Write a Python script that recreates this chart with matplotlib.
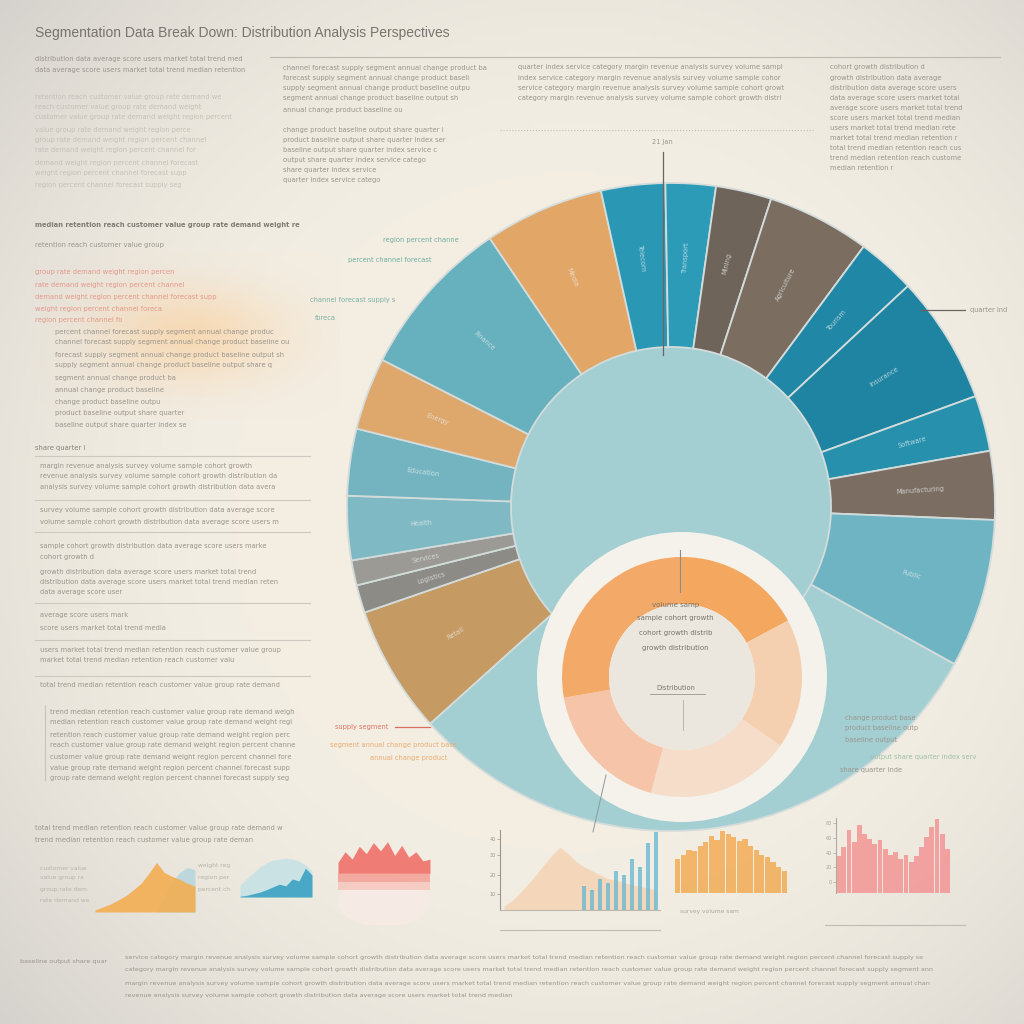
import numpy as np
import matplotlib
matplotlib.use("Agg")
import matplotlib.pyplot as plt
from matplotlib.patches import Circle, Ellipse
from matplotlib import font_manager

# ---------------- data ----------------
title = "Segmentation Data Break Down: Distribution Analysis Perspectives"

ring_labels = ["Retail", "Logistics", "Services", "Health", "Education", "Energy",
               "Finance", "Media", "Telecom", "Transport", "Mining", "Agriculture",
               "Tourism", "Insurance", "Software", "Manufacturing", "Public", ""]
ring_values = [23, 5, 4.5, 11.5, 12, 13, 29, 21.5, 11.5, 9, 10, 18.5,
               10.5, 23, 10, 12.3, 26.7, 109]
ring_colors = ["#c59a63", "#8d8b86", "#9b9a95", "#7fbac4", "#74b4c1", "#dea76c",
               "#67b0be", "#e2a666", "#2a97b4", "#2c9bb8", "#6f6459", "#7b6d60",
               "#2088a6", "#1e84a1", "#2790ad", "#7b6d62", "#6fb4c3", "#a3cfd3"]

donut_values = [62, 63, 70, 65, 100]
donut_colors = ["#f4a75e", "#f5d0b0", "#f5ddca", "#f6c5a9", "#f3aa68"]

chart1_orange = [0.04, 0.10, 0.16, 0.24, 0.33, 0.45, 0.58, 0.78, 1.00, 0.80, 0.72, 0.66, 0.58, 0.52]
chart1_blue = [0.0, 0.0, 0.0, 0.0, 0.0, 0.0, 0.0, 0.0, 0.0, 0.3, 0.6, 0.8, 0.9, 0.85]
chart2_light = [0.30, 0.45, 0.60, 0.75, 0.85, 0.92, 0.95, 0.97, 0.95, 0.90, 0.80, 0.65]
chart2_blue = [0.02, 0.04, 0.08, 0.12, 0.18, 0.25, 0.32, 0.28, 0.45, 0.40, 0.72, 0.55]
chart3_red = [0.55, 0.78, 0.62, 0.90, 0.74, 0.98, 0.80, 1.00, 0.70, 0.92, 0.66, 0.78, 0.58, 0.62]
chart4_orange = [0.05, 0.12, 0.22, 0.33, 0.45, 0.58, 0.70, 0.80, 0.72, 0.62, 0.55, 0.50, 0.45, 0.40,
                 0.38, 0.35, 0.32, 0.30, 0.28, 0.25]
chart4_blue = [0.0, 0.0, 0.0, 0.0, 0.0, 0.0, 0.0, 0.0, 0.0, 0.0, 0.30, 0.25, 0.40, 0.35, 0.50,
               0.45, 0.65, 0.55, 0.85, 1.00]
chart5_bars = [0.55, 0.62, 0.70, 0.68, 0.76, 0.82, 0.92, 0.86, 1.00, 0.95, 0.90, 0.84, 0.88,
               0.76, 0.70, 0.62, 0.58, 0.50, 0.42, 0.36]
chart6_bars = [0.50, 0.62, 0.86, 0.70, 0.92, 0.80, 0.74, 0.66, 0.72, 0.60, 0.52, 0.56, 0.46,
               0.52, 0.42, 0.50, 0.62, 0.76, 0.90, 1.00, 0.80, 0.60]

words = ("segment share revenue growth market customer region annual quarter analysis "
         "distribution total value percent change index survey data trend group channel "
         "product service volume average median rate forecast baseline category sample "
         "score retention demand supply output margin cohort users reach weight").split()

# ---------------- helpers ----------------
try:
    font_manager.findfont("Liberation Sans Narrow", fallback_to_default=False)
    FAM = ["Liberation Sans Narrow", "DejaVu Sans"]
    CW = 0.44
except Exception:
    FAM = ["DejaVu Sans"]
    CW = 0.57

TXT = "#9a958c"


def Y(v):
    return 1024 - v


def filler(n, k):
    out, i = [], k
    while len(" ".join(out)) < n:
        out.append(words[(i * 7 + 3) % len(words)])
        i += 1
    return " ".join(out)[:n]


fig = plt.figure(figsize=(10.24, 10.24), dpi=100)
ax = fig.add_axes([0, 0, 1, 1])

# background with vignette
yy, xx = np.mgrid[0:1:240j, 0:1:240j]
d = np.sqrt((xx - 0.56) ** 2 + (yy - 0.5) ** 2)
t = np.clip((d - 0.33) / 0.42, 0, 1) ** 1.6
base = np.array([0.953, 0.933, 0.890])
edge = np.array([0.835, 0.825, 0.805])
img = base * (1 - t[..., None]) + edge * t[..., None]
ax.imshow(img, extent=(0, 1024, 0, 1024), origin="lower", zorder=0, aspect="auto")

# soft orange glow behind red text block
gy, gx = np.mgrid[0:1:120j, 0:1:120j]
glow = np.zeros((120, 120, 4))
glow[..., 0], glow[..., 1], glow[..., 2] = 0.99, 0.80, 0.58
glow[..., 3] = 0.55 * np.exp(-((gx - 0.5) / 0.30) ** 2 - ((gy - 0.5) / 0.28) ** 2)
ax.imshow(glow, extent=(40, 340, Y(420), Y(250)), origin="lower", zorder=1, aspect="auto")


def line(x, y, w, size=4.9, color=TXT, k=0, alpha=1.0, weight="normal"):
    n = max(4, int(w / (size * 100 / 72 * CW)))
    ax.text(x, Y(y), filler(n, k), fontsize=size, color=color, ha="left", va="center",
            family=FAM, alpha=alpha, fontweight=weight, zorder=5)


def rule(x0, x1, y, color="#cdc8be", lw=0.8, ls="-"):
    ax.plot([x0, x1], [Y(y), Y(y)], color=color, lw=lw, ls=ls, zorder=4)


# ---------------- title and top text ----------------
ax.text(35, Y(33), title, fontsize=10, color="#77746e", family=["Liberation Sans", "DejaVu Sans"],
        ha="left", va="center", zorder=5)
rule(270, 1000, 57, color="#bdb8ae")
rule(500, 815, 130, color="#c4bfb5", ls=":")
line(35, 59, 235, k=1)
line(35, 70, 240, k=2)
for i, (yv, w) in enumerate([(97, 200), (107, 180), (117, 210), (130, 170), (140, 190),
                             (150, 175), (163, 180), (173, 170), (185, 165)]):
    line(35, yv, w, color="#bdb8af", k=10 + i, alpha=0.8)
for i, (yv, w) in enumerate([(68, 220), (78, 205), (88, 200), (98, 190), (110, 130),
                             (130, 180), (140, 185), (150, 175), (160, 160), (170, 110), (180, 110)]):
    line(283, yv, w, k=20 + i)
for i, (yv, w) in enumerate([(67, 290), (78, 285), (88, 290), (98, 290)]):
    line(518, yv, w, k=30 + i)
for i, (yv, w) in enumerate([(67, 110), (78, 130), (88, 150), (98, 145), (108, 150), (118, 145),
                             (128, 140), (138, 145), (148, 150), (158, 140), (168, 70)]):
    line(830, yv, w, k=40 + i)

# ---------------- left column ----------------
line(35, 225, 255, color="#807c75", k=50, weight="bold")
line(35, 245, 145, k=51)
for i, (yv, w) in enumerate([(272, 150), (285, 165), (297, 195), (309, 140), (320, 100)]):
    line(35, yv, w, color="#e38a7e", k=55 + i, alpha=0.85)
for i, (yv, w) in enumerate([(332, 235), (342, 255), (355, 250), (365, 235), (378, 125),
                             (390, 120), (402, 115), (413, 150), (425, 150)]):
    line(55, yv, w, k=60 + i)
line(35, 448, 60, color="#86827b", k=70)
ys_rules = [456, 500, 532, 603, 640, 676]
for yr in ys_rules:
    rule(35, 310, yr)
for i, yv in enumerate([466, 476, 487, 510, 522, 546, 557, 572, 582, 592, 615, 628, 650, 660, 685]):
    w = [230, 260, 262, 260, 262, 250, 60, 250, 270, 90, 95, 140, 270, 215, 265][i]
    line(40, yv, w, k=75 + i)
ax.plot([45, 45], [Y(705), Y(780)], color="#c8c3b9", lw=0.8, zorder=4)
for i, yv in enumerate([712, 722, 735, 745, 757, 768, 778]):
    line(50, yv, 260, k=90 + i)

# labels around the big ring
line(383, 240, 80, color="#6fae9f", k=100, size=4.8)
line(348, 260, 95, color="#6fae9f", k=101, size=4.8)
line(310, 300, 95, color="#7ab0a4", k=102, size=4.8)
line(315, 318, 25, color="#7ab0a4", k=103, size=4.8)
line(335, 727, 60, color="#e07362", k=104, size=4.8)
ax.plot([395, 430], [Y(727), Y(727)], color="#d66e60", lw=0.9, zorder=4)
line(330, 745, 130, color="#e8ad70", k=105, size=4.8)
line(370, 758, 85, color="#e8ad70", k=106, size=4.8)
line(845, 718, 75, k=107, size=4.8)
line(845, 728, 80, k=108, size=4.8)
line(845, 740, 60, k=109, size=4.8)
line(870, 757, 120, color="#9cbfa6", k=110, size=4.8)
line(840, 770, 70, k=111, size=4.8)
ax.plot([920, 965], [Y(310), Y(310)], color="#6a6560", lw=0.9, zorder=4)
line(970, 310, 45, k=112, size=4.8)
ax.plot([663, 663], [Y(152), Y(355)], color="#6a6560", lw=0.9, zorder=4)
ax.text(662, Y(142), "21 Jan", fontsize=4.8, color=TXT, family=FAM, ha="center",
        va="center", zorder=5)

# ---------------- big ring ----------------
C1 = (671, Y(507))
ax.add_patch(Circle(C1, 324, facecolor="#a3cfd3", edgecolor="none", zorder=2))
wedges, _ = ax.pie(ring_values, colors=ring_colors, startangle=222, counterclock=False,
                   radius=324, center=C1,
                   wedgeprops=dict(width=164, edgecolor="#d3dcdb", linewidth=1.3))
for w in wedges:
    w.set_zorder(3)
cum = np.cumsum([0] + ring_values)
for lab, a0, a1 in zip(ring_labels, cum[:-1], cum[1:]):
    if not lab:
        continue
    mid = 222 - (a0 + a1) / 2
    r = 250
    x = C1[0] + r * np.cos(np.radians(mid))
    y = C1[1] + r * np.sin(np.radians(mid))
    rot = mid if -90 <= ((mid + 180) % 360 - 180) <= 90 else mid + 180
    ax.text(x, y, lab, fontsize=4.8, color="#e8efee", alpha=0.75, family=FAM,
            ha="center", va="center", rotation=rot, zorder=6)

# ---------------- inner donut ----------------
C2 = (682, Y(677))
ax.add_patch(Circle(C2, 145, facecolor="#f5f2eb", edgecolor="none", zorder=7))
dw, _ = ax.pie(donut_values, colors=donut_colors, startangle=90, counterclock=False,
               radius=120, center=C2, wedgeprops=dict(width=47, edgecolor="none"))
for w in dw:
    w.set_zorder(8)
ax.add_patch(Circle(C2, 73, facecolor="#ebe7df", edgecolor="none", zorder=9))
ax.plot([680, 680], [Y(550), Y(592)], color="#8f8a82", lw=0.8, zorder=10)
ax.plot([683, 683], [Y(700), Y(730)], color="#b3aea5", lw=0.6, zorder=10)
for i, (yv, w) in enumerate([(605, 45), (618, 85), (633, 85), (648, 80)]):
    n = max(4, int(w / (5.0 * 100 / 72 * CW)))
    ax.text(676, Y(yv), filler(n, 120 + i), fontsize=5.0, color="#77736c", family=FAM,
            ha="center", va="center", zorder=10)
ax.text(676, Y(688), "Distribution", fontsize=4.8, color="#77736c", family=FAM,
        ha="center", va="center", zorder=10)
ax.plot([650, 705], [Y(694), Y(694)], color="#9a958d", lw=0.6, zorder=10)
ax.plot([606, 593], [Y(775), Y(832)], color="#8f9a9a", lw=0.7, zorder=10)

# ---------------- bottom section ----------------
line(35, 828, 270, k=130)
line(35, 840, 235, k=131)
for i, yv in enumerate([868, 878, 890, 900]):
    line(40, yv, 50, color="#b8b3aa", k=135 + i, size=4.3)
for i, yv in enumerate([866, 878, 890]):
    line(198, yv, 35, color="#b8b3aa", k=140 + i, size=4.3)
line(20, 962, 95, k=150, size=4.6)
for i, (yv, w) in enumerate([(957, 865), (970, 868), (983, 865), (995, 420)]):
    line(125, yv, w, k=155 + i, size=4.6)
rule(500, 660, 930, color="#c0bbb2")
rule(825, 965, 925, color="#c0bbb2")


def inset(x0, y0, x1, y1):
    a = fig.add_axes([x0 / 1024, 1 - y1 / 1024, (x1 - x0) / 1024, (y1 - y0) / 1024])
    a.set_facecolor("none")
    a.axis("off")
    return a


a1 = inset(95, 860, 195, 912)
xs = np.arange(len(chart1_orange))
a1.fill_between(xs, chart1_blue, color="#a9d3dc", alpha=0.7, lw=0)
a1.fill_between(xs, chart1_orange, color="#f3ae52", alpha=0.9, lw=0)
a1.set_ylim(0, 1.05)
a1.set_xlim(0, len(xs) - 1)

a2 = inset(240, 855, 312, 897)
xs = np.arange(len(chart2_light))
a2.fill_between(xs, chart2_light, color="#bfe0e6", alpha=0.75, lw=0)
a2.fill_between(xs, chart2_blue, color="#3aa2c2", alpha=0.9, lw=0)
a2.set_ylim(0, 1.05)
a2.set_xlim(0, len(xs) - 1)

a3 = inset(338, 840, 430, 925)
xs = np.arange(len(chart3_red))
a3.add_patch(Ellipse((6.5, 0.28), 13, 0.62, facecolor="#f6ebe4", edgecolor="none"))
top3 = np.array([0.45 + 0.55 * v for v in chart3_red])
a3.fill_between(xs, 0.62, top3, color="#f06a62", alpha=0.85, lw=0)
a3.fill_between(xs, 0.52, np.minimum(top3, 0.62), color="#f48e84", alpha=0.7, lw=0)
a3.fill_between(xs, 0.42, 0.52, color="#f7b7ad", alpha=0.6, lw=0)
a3.set_ylim(0, 1.02)
a3.set_xlim(0, len(xs) - 1)

a4 = inset(500, 830, 660, 910)
xs = np.arange(len(chart4_orange))
a4.fill_between(xs, chart4_orange, color="#f6cda9", alpha=0.7, lw=0)
a4.bar(xs, chart4_blue, width=0.5, color="#6bb9d3", alpha=0.8)
a4.set_xlim(-0.5, len(xs) - 0.5)
a4.set_ylim(0, 1.02)
a4.axis("on")
for s in ["top", "right"]:
    a4.spines[s].set_visible(False)
a4.spines["left"].set_color("#9a958d")
a4.spines["bottom"].set_color("#bdb8ae")
a4.set_xticks([])
a4.set_yticks([0.2, 0.45, 0.7, 0.9])
a4.set_yticklabels(["10", "20", "30", "40"], fontsize=3.5, color="#9a958d")
a4.tick_params(axis="y", length=2, width=0.5, color="#9a958d", pad=1)

a5 = inset(675, 830, 787, 893)
xs = np.arange(len(chart5_bars))
a5.bar(xs, chart5_bars, width=0.92, color="#f2ac55", alpha=0.85)
a5.set_xlim(-0.5, len(xs) - 0.5)
a5.set_ylim(0, 1.02)
line(680, 912, 60, color="#aca79e", k=160, size=4.3)

a6 = inset(836, 818, 950, 893)
xs = np.arange(len(chart6_bars))
a6.bar(xs, chart6_bars, width=0.92, color="#f38a8a", alpha=0.75)
a6.set_xlim(-0.5, len(xs) - 0.5)
a6.set_ylim(0, 1.02)
a6.axis("on")
for s in ["top", "right", "bottom"]:
    a6.spines[s].set_visible(False)
a6.spines["left"].set_color("#b0aba2")
a6.set_xticks([])
a6.set_yticks([0.15, 0.35, 0.55, 0.75, 0.95])
a6.set_yticklabels(["0", "20", "40", "60", "80"], fontsize=3.5, color="#a9a49b")
a6.tick_params(axis="y", length=2, width=0.5, color="#b0aba2", pad=1)

ax.set_xlim(0, 1024)
ax.set_ylim(0, 1024)
ax.set_aspect("auto")
ax.axis("off")
fig.savefig("out.png", dpi=100)
